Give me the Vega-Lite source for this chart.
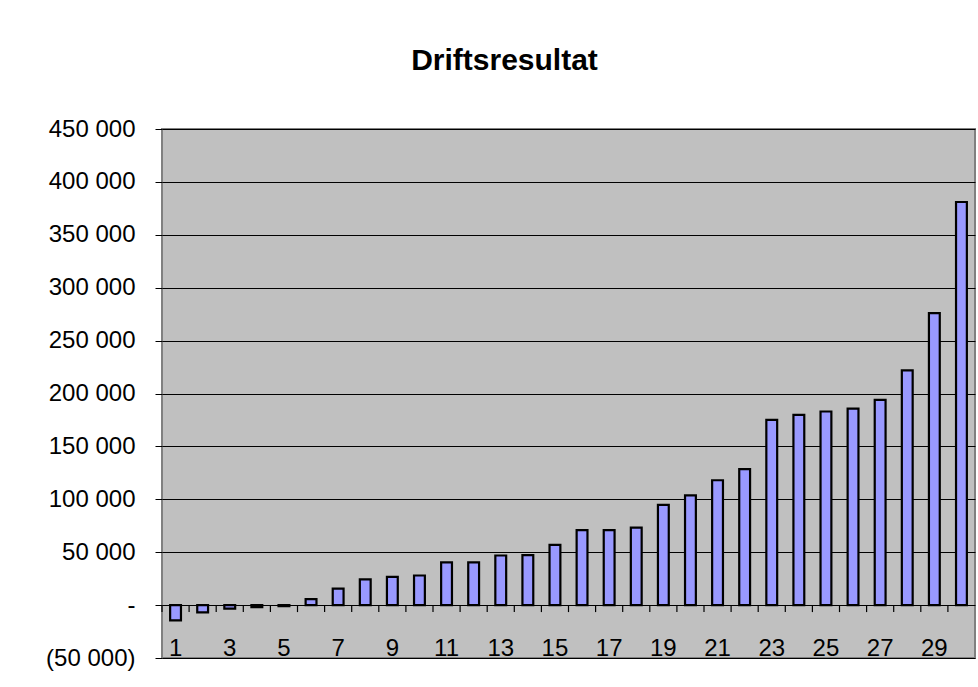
{
  "$schema": "https://vega.github.io/schema/vega-lite/v6.json",
  "autosize": "none",
  "width": 813,
  "height": 529,
  "padding": {"left": 162, "top": 129, "right": 3, "bottom": 29},
  "background": "white",
  "config": {
    "font": "Liberation Sans",
    "view": {"fill": "#C0C0C0", "stroke": "#808080", "strokeWidth": 2}
  },
  "title": {
    "text": "Driftsresultat",
    "font": "Liberation Sans",
    "fontSize": 30,
    "fontWeight": "bold",
    "color": "black",
    "anchor": "middle",
    "frame": "group",
    "baseline": "alphabetic",
    "offset": 59,
    "dx": -64,
    "dy": 42
  },
  "data": {
    "values": [
      {"period": 1, "result": -14400},
      {"period": 2, "result": -6900},
      {"period": 3, "result": -3300},
      {"period": 4, "result": -2000},
      {"period": 5, "result": -1000},
      {"period": 6, "result": 5600},
      {"period": 7, "result": 15600},
      {"period": 8, "result": 24400},
      {"period": 9, "result": 26600},
      {"period": 10, "result": 28000},
      {"period": 11, "result": 40300},
      {"period": 12, "result": 40300},
      {"period": 13, "result": 46900},
      {"period": 14, "result": 47200},
      {"period": 15, "result": 57000},
      {"period": 16, "result": 70800},
      {"period": 17, "result": 70800},
      {"period": 18, "result": 73300},
      {"period": 19, "result": 94700},
      {"period": 20, "result": 103800},
      {"period": 21, "result": 118000},
      {"period": 22, "result": 128600},
      {"period": 23, "result": 175000},
      {"period": 24, "result": 179800},
      {"period": 25, "result": 183000},
      {"period": 26, "result": 185700},
      {"period": 27, "result": 194000},
      {"period": 28, "result": 221800},
      {"period": 29, "result": 276000},
      {"period": 30, "result": 381000}
    ]
  },
  "encoding": {
    "x": {
      "field": "period",
      "type": "ordinal",
      "scale": {"paddingInner": 0, "paddingOuter": 0},
      "axis": {
        "title": null,
        "domain": false,
        "ticks": false,
        "tickSize": 0,
        "grid": false,
        "labelAngle": 0,
        "labelFont": "Liberation Sans",
        "labelFontSize": 24,
        "labelColor": "black",
        "labelBaseline": "alphabetic",
        "labelPadding": -3,
        "labelExpr": "datum.value % 2 == 1 ? datum.label : ''"
      }
    }
  },
  "layer": [
    {
      "mark": {"type": "bar", "width": {"band": 0.4}, "fill": "#9999FF", "stroke": "black", "strokeWidth": 2.2},
      "encoding": {
        "y": {
          "field": "result",
          "type": "quantitative",
          "scale": {"domain": [-50000, 450000], "nice": false, "zero": false},
          "axis": {
            "title": null,
            "values": [-50000, 0, 50000, 100000, 150000, 200000, 250000, 300000, 350000, 400000, 450000],
            "domain": false,
            "grid": true,
            "gridColor": "black",
            "gridWidth": 1,
            "gridOpacity": 1,
            "tickColor": "black",
            "tickSize": 7,
            "tickWidth": 1,
            "labelPadding": 20,
            "labelFont": "Liberation Sans",
            "labelFontSize": 24,
            "labelColor": "black",
            "labelExpr": "datum.value == 0 ? '-\u00a0\u00a0\u00a0' : (datum.value < 0 ? '(' + replace(format(-datum.value, ','), ',', ' ') + ')' : replace(format(datum.value, ','), ',', ' ') + '\u00a0')"
          }
        }
      }
    },
    {
      "mark": {"type": "rule", "color": "black", "strokeWidth": 1.2},
      "encoding": {
        "x": {"field": "period", "type": "ordinal", "bandPosition": 0},
        "y": {"datum": 0},
        "y2": {"datum": -6600}
      }
    }
  ]
}
